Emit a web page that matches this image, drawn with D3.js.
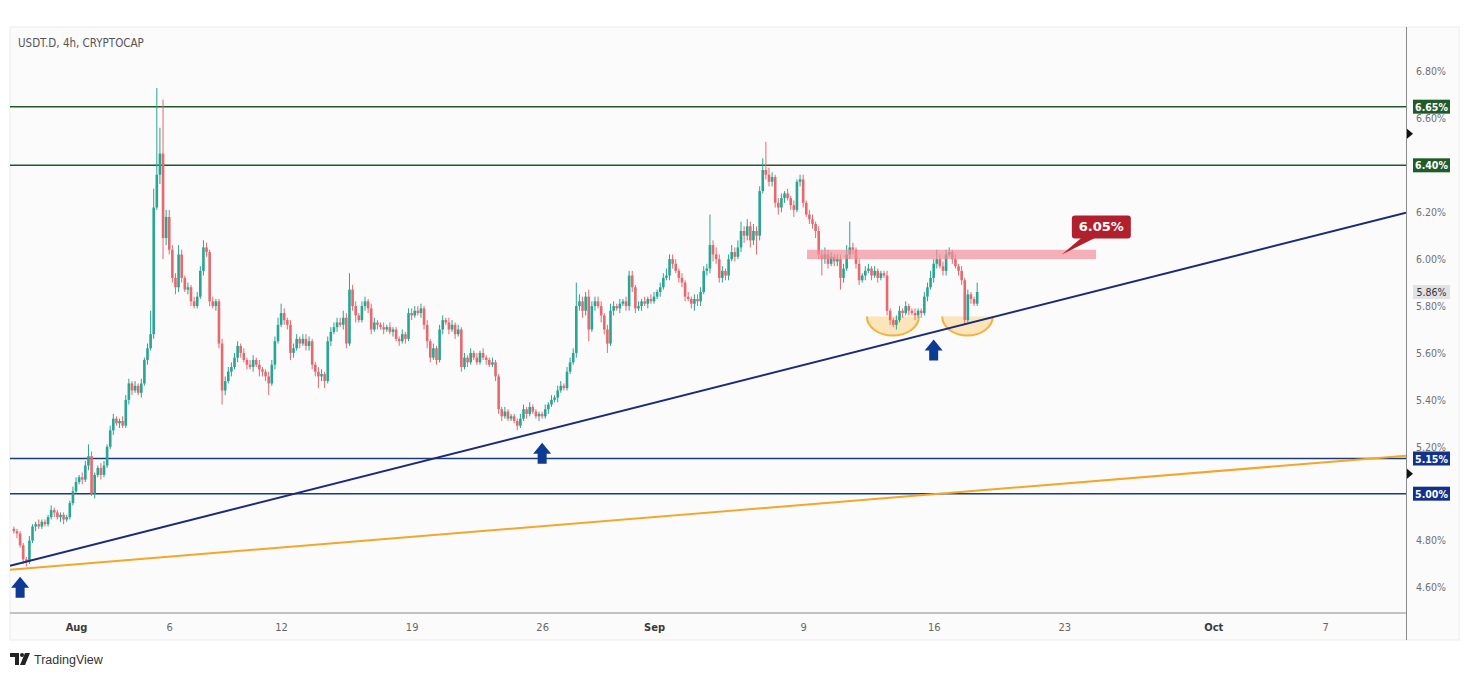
<!DOCTYPE html>
<html><head><meta charset="utf-8">
<script src="https://cdn.jsdelivr.net/npm/d3@7"></script>
<style>
html,body{margin:0;padding:0;background:#fff;}
svg{display:block;font-family:"DejaVu Sans Condensed","Liberation Sans",sans-serif;}
</style></head><body><svg id="chart" width="1470" height="677"></svg>
<script>
// ---------------- DATA ----------------
const title = "USDT.D, 4h, CRYPTOCAP";
const startTime = "2024-07-28T16:00:00";
const firstOpen = 4.85;
const closes = [
4.84,4.83,4.78,4.72,4.71,4.80,4.86,4.87,4.86,4.88,
4.87,4.90,4.93,4.92,4.90,4.91,4.89,4.90,4.96,5.01,
5.05,5.07,5.06,5.12,5.16,5.00,5.08,5.11,5.08,5.12,
5.20,5.27,5.32,5.30,5.31,5.29,5.40,5.47,5.44,5.46,
5.43,5.47,5.57,5.62,5.68,6.22,6.36,6.45,6.09,6.18,
6.04,5.92,5.88,6.02,5.92,5.87,5.88,5.82,5.80,5.84,
5.95,6.05,6.03,5.82,5.80,5.82,5.64,5.44,5.48,5.52,
5.54,5.58,5.63,5.60,5.57,5.55,5.54,5.57,5.55,5.53,
5.52,5.50,5.47,5.55,5.65,5.72,5.77,5.74,5.72,5.60,
5.62,5.66,5.64,5.66,5.63,5.65,5.55,5.52,5.50,5.51,
5.48,5.65,5.69,5.71,5.73,5.72,5.75,5.64,5.87,5.80,
5.76,5.74,5.80,5.82,5.79,5.70,5.73,5.72,5.71,5.70,
5.71,5.69,5.70,5.66,5.65,5.68,5.66,5.77,5.76,5.78,
5.77,5.79,5.72,5.65,5.58,5.62,5.57,5.70,5.74,5.73,
5.70,5.72,5.68,5.70,5.54,5.58,5.56,5.60,5.58,5.56,
5.60,5.58,5.57,5.55,5.56,5.50,5.36,5.33,5.35,5.32,
5.33,5.31,5.29,5.32,5.36,5.34,5.37,5.35,5.33,5.34,
5.33,5.36,5.38,5.40,5.41,5.44,5.46,5.45,5.52,5.56,
5.60,5.80,5.82,5.78,5.84,5.70,5.80,5.82,5.80,5.76,
5.70,5.64,5.78,5.80,5.79,5.81,5.82,5.80,5.93,5.88,
5.79,5.80,5.82,5.81,5.83,5.82,5.84,5.86,5.88,5.92,
5.93,6.00,5.98,5.95,5.92,5.90,5.84,5.83,5.81,5.83,
5.82,5.86,5.95,5.96,6.06,6.02,6.00,5.92,5.95,5.93,
6.00,6.03,6.01,6.05,6.12,6.10,6.14,6.08,6.12,6.10,
6.29,6.38,6.36,6.33,6.35,6.24,6.22,6.26,6.28,6.26,
6.23,6.21,6.33,6.34,6.24,6.19,6.17,6.15,6.12,6.02,
6.00,6.02,5.98,6.01,5.99,6.00,5.92,5.96,6.02,6.05,
6.04,5.98,5.91,5.93,5.95,5.96,5.93,5.95,5.92,5.94,
5.93,5.78,5.74,5.72,5.74,5.78,5.77,5.80,5.78,5.77,
5.76,5.78,5.77,5.84,5.88,5.92,5.98,6.00,5.97,5.95,
6.02,6.03,6.00,5.97,5.95,5.91,5.74,5.85,5.83,5.81,5.86
];
// upper / lower wick lengths, in hundredths of a percent
const wickUp = [
1,1,1,1,1,2,1,1,2,1, 1,1,2,1,1,1,1,1,1,2, 2,1,2,2,5,2,1,1,2,2, 1,2,2,1,1,2,2,2,1,2,
1,2,1,2,10,8,37,11,23,3, 3,2,2,4,2,1,2,1,2,2, 2,3,2,1,2,1,1,2,2,2, 2,2,2,1,2,1,2,2,1,2,
1,1,2,2,2,3,4,2,1,2, 2,2,1,2,2,2,1,1,2,2, 1,2,2,2,2,2,3,2,7,2, 2,1,2,2,1,2,2,1,1,2,
1,2,1,1,1,2,1,2,2,2, 2,2,1,2,1,2,1,2,2,1, 2,2,1,2,1,2,1,2,1,2, 1,2,1,1,2,1,1,1,2,1,
1,1,1,2,2,1,2,1,1,1, 1,2,1,2,1,2,2,1,2,2, 2,10,3,2,2,3,2,2,2,2, 1,2,3,2,1,2,1,2,2,2,
1,2,1,2,1,2,2,1,2,2, 3,2,2,2,1,2,1,2,1,2, 2,2,2,2,13,2,3,2,2,1, 2,3,2,3,4,2,3,2,3,2,
2,5,12,3,2,1,2,2,1,2, 1,2,1,2,2,1,2,2,1,2, 2,3,2,2,1,2,2,2,4,11, 2,1,2,1,2,2,1,2,1,1,
1,2,1,1,2,2,1,2,1,1, 2,1,1,2,2,3,2,4,2,2, 2,2,1,2,1,2,1,2,1,1,4
];
const wickDn = [
1,2,1,2,2,1,1,2,1,1, 1,1,1,2,1,2,2,1,1,1, 1,1,2,1,2,1,2,1,2,1, 1,1,2,1,2,1,1,2,2,1,
1,2,1,2,1,2,1,4,9,3, 2,2,3,2,2,1,2,2,1,1, 1,2,2,2,1,2,2,6,2,1, 2,1,2,2,1,2,1,2,1,3,
2,2,5,1,2,1,1,2,2,3, 2,1,2,1,2,2,2,2,5,2, 3,1,2,1,2,1,2,2,1,2, 3,1,1,2,2,2,1,2,1,2,
1,1,2,1,2,1,2,1,2,1, 1,2,2,3,2,1,2,1,2,1, 2,1,2,1,2,1,2,1,1,1, 1,1,2,1,1,2,2,2,1,1,
1,1,2,1,1,2,1,1,1,2, 1,1,2,1,1,2,1,1,1,1, 1,2,2,3,2,5,1,2,1,3, 2,4,1,2,1,2,1,2,2,2,
2,1,2,1,2,1,1,1,2,1, 1,2,2,1,2,2,2,1,2,3, 2,2,1,2,2,3,2,2,2,2, 2,1,2,1,2,3,2,3,2,8,
2,1,2,2,2,2,3,2,2,1, 2,3,1,2,2,1,2,2,3,2, 7,2,2,1,2,2,5,2,1,2, 2,2,2,1,2,1,2,1,2,1,
1,2,2,1,2,1,2,1,2,1, 2,1,2,1,2,1,2,2,1,2, 2,1,2,1,2,2,2,1,2,1,1
];
const yTicks = [4.60,4.80,5.00,5.20,5.40,5.60,5.80,6.00,6.20,6.40,6.60,6.80];
const xTickDates = ["2024-08-01","2024-08-06","2024-08-12","2024-08-19","2024-08-26","2024-09-01","2024-09-09","2024-09-16","2024-09-23","2024-10-01","2024-10-07"];
const xTickLabels = ["Aug","6","12","19","26","Sep","9","16","23","Oct","7"];
const xDomain = ["2024-07-28T11:00:00","2024-10-11T08:00:00"];
const yDomain = [4.60, 6.80];
const greenLevels = [6.65, 6.40];
const blueLevels = [5.15, 5.00];
const supportLine = [["2024-07-28T11:00:00",4.693],["2024-10-11T08:00:00",6.198]];
const orangeLine = [["2024-07-28T11:00:00",4.676],["2024-10-11T08:00:00",5.162]];
const zoneDates = ["2024-09-09T05:00:00","2024-09-24T17:00:00"];
const zoneValues = [6.00, 6.04];
const calloutText = "6.05%";
const calloutAnchor = ["2024-09-22T21:00:00", 6.02];
const arrowDates = ["2024-07-29T00:00:00","2024-08-26T00:00:00","2024-09-16T00:00:00"];
const arrowValues = [4.646, 5.217, 5.657];
const cupStarts = ["2024-09-12T10:00:00","2024-09-16T11:00:00"];
const cupEnds = ["2024-09-15T05:00:00","2024-09-19T04:00:00"];
const cupTop = [5.755, 5.755];
const cupBottom = [5.674, 5.674];
const markerValues = [6.535, 5.085];
const lastPrice = 5.86;

// ---------------- CHART ----------------
const svg = d3.select("#chart");
const L = 10, R = 1406, T = 27, B = 613;
const pct = v => v.toFixed(2) + "%";
const x = d3.scaleTime().domain(xDomain.map(d => new Date(d))).range([L, R]);
const y = d3.scaleLinear().domain(yDomain).range([587.5, 71.5]);

// panel
svg.append("rect").attr("x", L).attr("y", T).attr("width", 1449).attr("height", 613)
  .attr("fill", "#fbfbfc").attr("stroke", "#ececef");

const t0 = new Date(startTime).getTime();
const candles = closes.map((c, i) => {
  const o = i === 0 ? firstOpen : closes[i - 1];
  return { t: new Date(t0 + i * 4 * 3600 * 1000), o, c,
    h: Math.max(o, c) + (wickUp[i] ?? 1) / 100,
    l: Math.min(o, c) - (wickDn[i] ?? 1) / 100 };
});

svg.append("defs").append("clipPath").attr("id", "plot")
  .append("rect").attr("x", L).attr("y", T).attr("width", R - L).attr("height", B - T);
const plot = svg.append("g").attr("clip-path", "url(#plot)");

// horizontal levels
greenLevels.forEach(v => plot.append("line").attr("x1", L).attr("x2", R)
  .attr("y1", y(v)).attr("y2", y(v)).attr("stroke", "#1f5a28").attr("stroke-width", 1.4));
blueLevels.forEach(v => plot.append("line").attr("x1", L).attr("x2", R)
  .attr("y1", y(v)).attr("y2", y(v)).attr("stroke", "#1b3c78").attr("stroke-width", 1.4));

// cups
cupStarts.forEach((s, i) => {
  const x0 = x(new Date(s)), x1 = x(new Date(cupEnds[i]));
  const yt = y(cupTop[i]), yb = y(cupBottom[i]);
  const rx = (x1 - x0) / 2, ry = yb - yt;
  plot.append("path").attr("d", `M${x0},${yt} A${rx},${ry} 0 0 0 ${x1},${yt} Z`)
    .attr("fill", "#fcdca6").attr("opacity", 0.75);
  plot.append("path").attr("d", `M${x0},${yt} A${rx},${ry} 0 0 0 ${x1},${yt}`)
    .attr("fill", "none").attr("stroke", "#f2b23c").attr("stroke-width", 2);
});

// candles
const up = "#2aa493", dn = "#e46a6e";
const g = plot.append("g");
g.selectAll("line.wick").data(candles).join("line").attr("class", "wick")
  .attr("x1", d => x(d.t)).attr("x2", d => x(d.t))
  .attr("y1", d => y(d.h)).attr("y2", d => y(d.l))
  .attr("stroke", d => d.c >= d.o ? up : dn).attr("stroke-width", 1);
g.selectAll("rect.body").data(candles).join("rect").attr("class", "body")
  .attr("x", d => x(d.t) - 1.3).attr("width", 2.6)
  .attr("y", d => y(Math.max(d.o, d.c)))
  .attr("height", d => Math.max(1, Math.abs(y(d.o) - y(d.c))))
  .attr("fill", d => d.c >= d.o ? up : dn);

// resistance zone
plot.append("rect").attr("x", x(new Date(zoneDates[0]))).attr("width", x(new Date(zoneDates[1])) - x(new Date(zoneDates[0])))
  .attr("y", y(zoneValues[1])).attr("height", y(zoneValues[0]) - y(zoneValues[1]))
  .attr("fill", "#f28e98").attr("opacity", 0.7);

// trend lines
const line = d3.line().x(d => x(new Date(d[0]))).y(d => y(d[1]));
plot.append("path").attr("d", line(orangeLine)).attr("fill", "none").attr("stroke", "#f4a62a").attr("stroke-width", 2);
plot.append("path").attr("d", line(supportLine)).attr("fill", "none").attr("stroke", "#1c2a78").attr("stroke-width", 2);

// arrows
arrowDates.forEach((d, i) => {
  const cx = x(new Date(d)), ty = y(arrowValues[i]);
  plot.append("path").attr("d",
    `M${cx},${ty} L${cx + 9},${ty + 11} L${cx + 4.5},${ty + 11} L${cx + 4.5},${ty + 21} L${cx - 4.5},${ty + 21} L${cx - 4.5},${ty + 11} L${cx - 9},${ty + 11} Z`)
    .attr("fill", "#0d3a92");
});

// callout
{
  const ax = x(new Date(calloutAnchor[0])), ay = y(calloutAnchor[1]);
  const bx = ax + 10, by = ay - 39, bw = 59, bh = 23;
  svg.append("path").attr("d", `M${ax},${ay} L${bx + 10},${by + bh - 1} L${bx + 24},${by + bh - 1} Z`).attr("fill", "#b3202d");
  svg.append("rect").attr("x", bx).attr("y", by).attr("width", bw).attr("height", bh).attr("rx", 3).attr("fill", "#b3202d");
  svg.append("text").attr("x", bx + bw / 2).attr("y", by + 16).attr("text-anchor", "middle")
    .attr("fill", "#fff").attr("font-size", 13).attr("font-weight", "bold")
    .attr("font-family", "'DejaVu Sans','Liberation Sans',sans-serif").text(calloutText);
}

// axes lines
svg.append("line").attr("x1", L).attr("x2", R).attr("y1", B).attr("y2", B).attr("stroke", "#8a8a8a");
svg.append("line").attr("x1", R + 0.5).attr("x2", R + 0.5).attr("y1", T).attr("y2", 640).attr("stroke", "#8a8a8a");

// y axis ticks
const yAxis = svg.append("g").attr("transform", `translate(${R},0)`)
  .call(d3.axisRight(y).tickValues(yTicks).tickSize(0).tickPadding(10).tickFormat(pct));
yAxis.select(".domain").remove();
yAxis.selectAll("text").attr("fill", "#707070").attr("font-size", 10.5)
  .attr("font-family", "'DejaVu Sans Condensed','Liberation Sans',sans-serif");

// x axis ticks
const xAxis = svg.append("g").attr("transform", `translate(0,${B})`)
  .call(d3.axisBottom(x).tickValues(xTickDates.map(d => new Date(d + "T00:00:00"))).tickSize(0).tickPadding(10)
    .tickFormat((d, i) => xTickLabels[i]));
xAxis.select(".domain").remove();
xAxis.selectAll("text").attr("font-size", 11)
  .attr("fill", (d, i) => isNaN(+xTickLabels[i]) ? "#3a3a3a" : "#666")
  .attr("font-weight", (d, i) => isNaN(+xTickLabels[i]) ? "bold" : "normal")
  .attr("font-family", "'DejaVu Sans Condensed','Liberation Sans',sans-serif");

// level labels
function levelBox(v, bg, fg, weight) {
  const yy = y(v);
  svg.append("rect").attr("x", 1413).attr("y", yy - 7).attr("width", 37).attr("height", 14).attr("fill", bg);
  svg.append("text").attr("x", 1431.5).attr("y", yy + 4).attr("text-anchor", "middle")
    .attr("fill", fg).attr("font-size", 10.5).attr("font-weight", weight)
    .attr("font-family", "'DejaVu Sans Condensed','Liberation Sans',sans-serif").text(pct(v));
}
greenLevels.forEach(v => levelBox(v, "#1f5c2a", "#fff", "bold"));
blueLevels.forEach(v => levelBox(v, "#12318c", "#fff", "bold"));
levelBox(lastPrice, "#e2e2e4", "#333", "normal");

// small markers on price axis
markerValues.forEach(v => {
  const yy = y(v);
  svg.append("path").attr("d", `M${R + 1},${yy - 5} L${R + 7},${yy} L${R + 1},${yy + 5} Z`).attr("fill", "#111");
});

// title
svg.append("text").attr("x", 18).attr("y", 47).attr("font-size", 11.5).attr("fill", "#555")
  .attr("font-family", "'DejaVu Sans Condensed','Liberation Sans',sans-serif").text(title);

// TradingView logo
const logo = svg.append("g").attr("transform", "translate(10,653)").attr("fill", "#222");
logo.append("path").attr("d", "M0,0 H9 V12 H5 V4 H0 Z");
logo.append("circle").attr("cx", 12).attr("cy", 2).attr("r", 2);
logo.append("path").attr("d", "M15,0 H20 L15,12 H10 Z");
svg.append("text").attr("x", 34).attr("y", 664).attr("font-size", 12.5).attr("fill", "#333")
  .attr("font-family", "'Liberation Sans','DejaVu Sans',sans-serif").text("TradingView");
</script></body></html>
